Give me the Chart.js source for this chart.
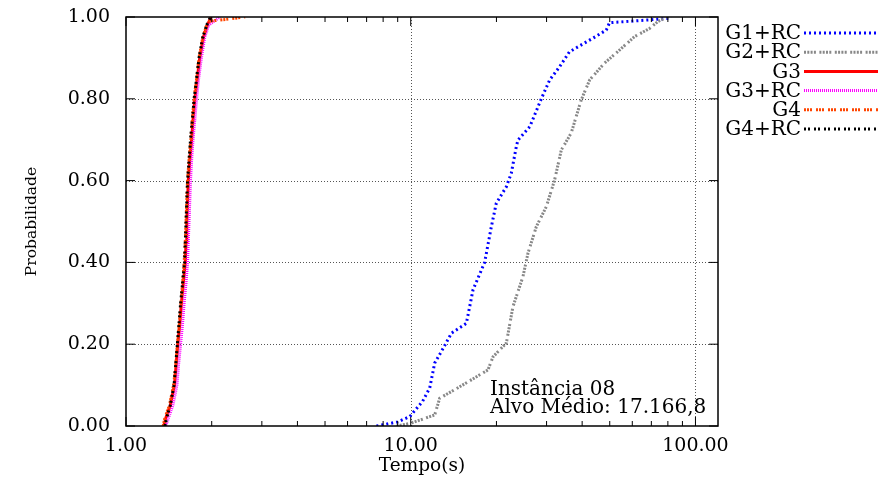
<!DOCTYPE html>
<html>
<head>
<meta charset="utf-8">
<script src="https://cdn.jsdelivr.net/npm/chart.js@4.4.0/dist/chart.umd.min.js"></script>
<style>
  html, body { margin: 0; padding: 0; background: #fff; overflow: hidden; }
  #wrap { width: 878px; height: 484px; }
</style>
</head>
<body>
<div id="wrap"><canvas id="myChart"></canvas></div>
<script>
var seriesNames = ['G1+RC', 'G2+RC', 'G3', 'G3+RC', 'G4', 'G4+RC']

// tempo (s) / probabilidade acumulada de cada serie
var g1rcTime = [7.58, 9.0, 9.92, 11.0, 11.66, 12.14, 13.0, 13.9, 15.68, 16.55, 18.18, 19.19, 19.98, 21.67, 22.55, 23.49, 23.8, 26.2, 28.75, 30.75, 33.3, 36.1, 43.6, 48.6, 49.9, 69.0, 81.0, 82.0]
var g1rcProb = [0.0, 0.01, 0.023, 0.06, 0.093, 0.154, 0.19, 0.227, 0.251, 0.333, 0.40, 0.487, 0.545, 0.585, 0.618, 0.683, 0.699, 0.732, 0.80, 0.846, 0.878, 0.915, 0.948, 0.968, 0.986, 0.993, 0.997, 1.0]

var g2rcTime = [8.91, 9.92, 12.14, 12.64, 14.86, 18.67, 19.45, 21.67, 22.86, 24.78, 25.8, 27.6, 29.93, 32.0, 33.8, 36.6, 39.7, 42.5, 47.9, 54.1, 61.1, 69.0, 73.8, 80.0]
var g2rcProb = [0.0, 0.006, 0.027, 0.068, 0.096, 0.137, 0.169, 0.203, 0.292, 0.365, 0.422, 0.487, 0.536, 0.601, 0.675, 0.716, 0.797, 0.846, 0.887, 0.919, 0.952, 0.972, 0.989, 1.0]

var leftProb = [0.0, 0.02, 0.05, 0.10, 0.15, 0.20, 0.25, 0.30, 0.35, 0.40, 0.45, 0.50, 0.55, 0.60, 0.65, 0.70, 0.75, 0.80, 0.85, 0.90, 0.95, 0.98, 1.0]
var g3Time = [1.36, 1.38, 1.43, 1.48, 1.50, 1.52, 1.545, 1.565, 1.59, 1.615, 1.625, 1.635, 1.645, 1.655, 1.675, 1.70, 1.72, 1.745, 1.78, 1.815, 1.87, 1.93, 1.99]
var g3rcTime = [1.38, 1.41, 1.46, 1.51, 1.53, 1.555, 1.58, 1.60, 1.625, 1.645, 1.655, 1.665, 1.675, 1.685, 1.70, 1.72, 1.745, 1.77, 1.80, 1.84, 1.89, 1.95, 2.14]
var g4Time = [1.35, 1.37, 1.42, 1.47, 1.495, 1.515, 1.54, 1.56, 1.58, 1.60, 1.615, 1.625, 1.635, 1.645, 1.665, 1.69, 1.71, 1.735, 1.77, 1.805, 1.86, 1.92, 2.62]
var g4Tail = [1.97, 2.3]
var g4TailProb = [0.99, 0.995]
var g4rcTime = [1.37, 1.39, 1.43, 1.475, 1.495, 1.515, 1.535, 1.555, 1.58, 1.605, 1.615, 1.625, 1.635, 1.645, 1.665, 1.685, 1.71, 1.735, 1.77, 1.805, 1.86, 1.92, 1.98]

var xTicks = [1, 10, 100]
var yTicks = [0, 0.2, 0.4, 0.6, 0.8, 1.0]
var noteLines = ['Instância 08', 'Alvo Médio: 17.166,8']

function pts(t, p) {
    var out = []
    for (var i in t) out.push({ x: t[i], y: p[i] })
    return out
}

var g4Points = pts(g4Time.slice(0, -1), leftProb.slice(0, -1))
    .concat(pts(g4Tail, g4TailProb))
    .concat([{ x: g4Time[g4Time.length - 1], y: 1.0 }])

var serif = 'DejaVu Serif'

var decor = {
    id: 'decor',
    beforeDatasetsDraw: function (chart) {
        var ctx = chart.ctx, a = chart.chartArea
        var xs = chart.scales.x, ys = chart.scales.y
        ctx.save()
        ctx.strokeStyle = '#555'
        ctx.lineWidth = 1
        ctx.setLineDash([1, 2])
        xTicks.forEach(function (v) {
            var px = Math.round(xs.getPixelForValue(v)) + 0.5
            if (px > a.left + 2 && px < a.right - 2) {
                ctx.beginPath(); ctx.moveTo(px, a.top); ctx.lineTo(px, a.bottom); ctx.stroke()
            }
        })
        yTicks.forEach(function (v) {
            var py = Math.round(ys.getPixelForValue(v)) + 0.5
            if (py > a.top + 2 && py < a.bottom - 2) {
                ctx.beginPath(); ctx.moveTo(a.left, py); ctx.lineTo(a.right, py); ctx.stroke()
            }
        })
        ctx.restore()
    },
    afterDatasetsDraw: function (chart) {
        var ctx = chart.ctx, a = chart.chartArea
        var xs = chart.scales.x, ys = chart.scales.y
        ctx.save()
        ctx.setLineDash([])
        ctx.strokeStyle = '#000'
        ctx.lineWidth = 1.5
        ctx.strokeRect(a.left, a.top, a.right - a.left, a.bottom - a.top)

        ctx.lineWidth = 1
        ctx.beginPath()
        yTicks.forEach(function (v) {
            var py = ys.getPixelForValue(v)
            ctx.moveTo(a.left, py); ctx.lineTo(a.left + 9, py)
            ctx.moveTo(a.right - 9, py); ctx.lineTo(a.right, py)
        })
        xTicks.forEach(function (d) {
            for (var k = 1; k <= 9; k++) {
                var v = d * k
                if (v > xs.max) break
                var px = xs.getPixelForValue(v)
                var len = k == 1 ? 9 : 5
                ctx.moveTo(px, a.bottom); ctx.lineTo(px, a.bottom - len)
                ctx.moveTo(px, a.top); ctx.lineTo(px, a.top + len)
            }
        })
        ctx.stroke()

        // legenda
        ctx.font = '20px "' + serif + '"'
        ctx.fillStyle = '#000'
        ctx.textAlign = 'right'
        ctx.textBaseline = 'middle'
        chart.data.datasets.forEach(function (ds, i) {
            var y = 33 + i * 19.2
            ctx.fillText(ds.label, 801, y + 1)
            ctx.save()
            ctx.strokeStyle = ds.borderColor
            ctx.lineWidth = ds.borderWidth
            ctx.setLineDash(ds.borderDash || [])
            ctx.beginPath(); ctx.moveTo(804, y); ctx.lineTo(878, y); ctx.stroke()
            ctx.restore()
        })

        // anotacao
        ctx.textAlign = 'left'
        ctx.textBaseline = 'alphabetic'
        ctx.fillText(noteLines[0], a.left + 364, a.bottom - 31)
        ctx.fillText(noteLines[1], a.left + 364, a.bottom - 13)
        ctx.restore()
    }
}

var ctx = document.getElementById('myChart').getContext('2d')
var chart = new Chart(ctx, {
    type: 'line',
    data: {
        datasets: [{
            label: seriesNames[0],
            data: pts(g1rcTime, g1rcProb),
            borderColor: '#0000ff',
            borderWidth: 3,
            borderDash: [2, 3],
            order: 5
        }, {
            label: seriesNames[1],
            data: pts(g2rcTime, g2rcProb),
            borderColor: '#888888',
            borderWidth: 3,
            borderDash: [2, 1.3, 2, 1.3, 2, 1.3, 2, 3.5],
            order: 4
        }, {
            label: seriesNames[2],
            data: pts(g3Time, leftProb),
            borderColor: '#ff0000',
            borderWidth: 3,
            borderDash: [],
            order: 3
        }, {
            label: seriesNames[3],
            data: pts(g3rcTime, leftProb),
            borderColor: '#ff00ff',
            borderWidth: 3,
            borderDash: [1, 1],
            order: 2
        }, {
            label: seriesNames[4],
            data: g4Points,
            borderColor: '#ff4500',
            borderWidth: 3,
            borderDash: [2, 1, 2, 1, 2, 4],
            order: 1
        }, {
            label: seriesNames[5],
            data: pts(g4rcTime, leftProb),
            borderColor: '#000000',
            borderWidth: 3,
            borderDash: [2, 2, 2, 4],
            order: 0
        }]
    },
    options: {
        responsive: true,
        maintainAspectRatio: false,
        animation: false,
        devicePixelRatio: 1,
        layout: { padding: { top: 17, right: 160, bottom: 0, left: 0 } },
        elements: { point: { radius: 0 }, line: { tension: 0, fill: false } },
        plugins: { legend: { display: false }, tooltip: { enabled: false } },
        scales: {
            x: {
                type: 'logarithmic',
                min: 1,
                max: 120,
                afterBuildTicks: function (s) { s.ticks = xTicks.map(function (v) { return { value: v } }) },
                afterFit: function (s) { s.height = 58; s.paddingLeft = 0; s.paddingRight = 0 },
                grid: { display: false, drawTicks: false },
                border: { display: false },
                ticks: {
                    autoSkip: false, maxRotation: 0, padding: 9, color: '#000',
                    font: { family: serif, size: 19 },
                    callback: function (v) { return Number(v).toFixed(2) }
                },
                title: {
                    display: true, text: 'Tempo(s)', color: '#000',
                    font: { family: serif, size: 18.5 },
                    padding: { top: 0, bottom: 7 }
                }
            },
            y: {
                min: 0,
                max: 1,
                afterBuildTicks: function (s) { s.ticks = yTicks.map(function (v) { return { value: v } }) },
                afterFit: function (s) { s.width = 126; s.paddingTop = 0; s.paddingBottom = 0 },
                grid: { display: false, drawTicks: false },
                border: { display: false },
                ticks: {
                    padding: 16, color: '#000',
                    font: { family: serif, size: 19 },
                    callback: function (v) { return Number(v).toFixed(2) }
                },
                title: {
                    display: true, text: 'Probabilidade', color: '#000',
                    font: { family: serif, size: 15.5 },
                    padding: { top: 23, bottom: 0 }
                }
            }
        }
    },
    plugins: [decor]
})
</script>
</body>
</html>
